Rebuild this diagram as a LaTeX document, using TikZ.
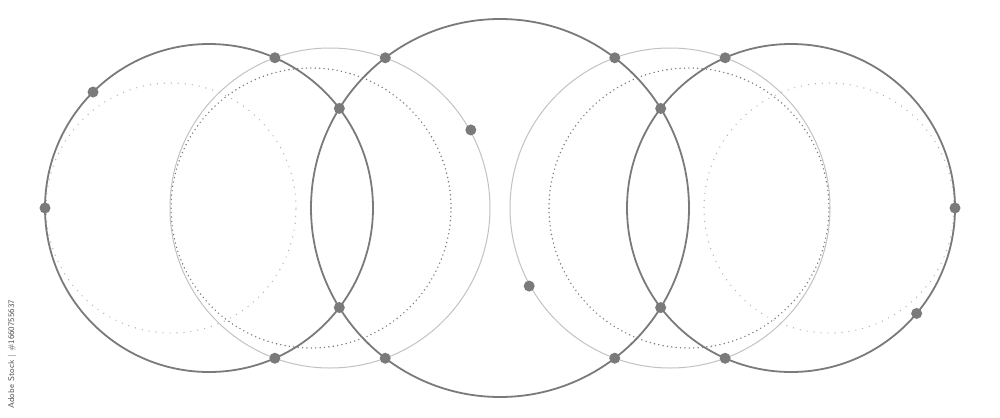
\documentclass[tikz,border=0pt]{standalone}
\usepackage{tikz}
\usetikzlibrary{intersections,calc}
\definecolor{ringgray}{HTML}{7A7A7A}
\definecolor{palegray}{HTML}{C2C2C2}
\definecolor{faintgray}{HTML}{B0B0B0}
\definecolor{stampgray}{HTML}{555555}

\begin{document}
\begin{tikzpicture}[x=0.025cm, y=0.025cm,
  ring/.style={draw=ringgray, line width=0.45mm},
  thinring/.style={draw=palegray, line width=0.25mm},
  dotring/.style={draw=ringgray, line width=0.4mm, line cap=round, dash pattern=on 0pt off 1.1mm},
  faintring/.style={draw=faintgray, line width=0.35mm, line cap=round, dash pattern=on 0pt off 1.75mm},
  knot/.style={fill=ringgray}]
\useasboundingbox (0,-209) rectangle (1000,208);
\coordinate (L) at (209,0);
\coordinate (M) at (500,0);
\coordinate (R) at (791,0);
\coordinate (LP) at (330,0);
\coordinate (RP) at (670,0);
% dotted rings
\draw[faintring] (171,0) circle[radius=125];
\draw[faintring] (829,0) circle[radius=125];
\draw[dotring] (311,0) circle[radius=140];
\draw[dotring] (689,0) circle[radius=140];
% solid rings
\draw[thinring, name path=leftpale] (LP) circle[radius=160];
\draw[thinring, name path=rightpale] (RP) circle[radius=160];
\draw[ring, name path=left] (L) circle[radius=164];
\draw[ring, name path=mid] (M) circle[radius=189];
\draw[ring, name path=right] (R) circle[radius=164];
% crossing points
\foreach \a/\b in {left/leftpale, left/mid, mid/leftpale, mid/rightpale, mid/right, right/rightpale}
  \fill[knot, name intersections={of={\a} and {\b}}]
    (intersection-1) circle[radius=5.5] (intersection-2) circle[radius=5.5];
% loose points
\fill[knot] ($(L)+(135:164)$) circle[radius=5.5];
\fill[knot] ($(L)+(180:164)$) circle[radius=5.5];
\fill[knot] ($(R)+(0:164)$) circle[radius=5.5];
\fill[knot] ($(R)+(-40:164)$) circle[radius=5.5];
\fill[knot] ($(LP)+(29:161)$) circle[radius=5.5];
\fill[knot] ($(RP)+(209:161)$) circle[radius=5.5];
\node[rotate=90, text=stampgray, font=\fontsize{6}{7}\selectfont\sffamily] (stamp) at (12,-146) {Adobe Stock | \#1660755637};
\end{tikzpicture}
\end{document}
